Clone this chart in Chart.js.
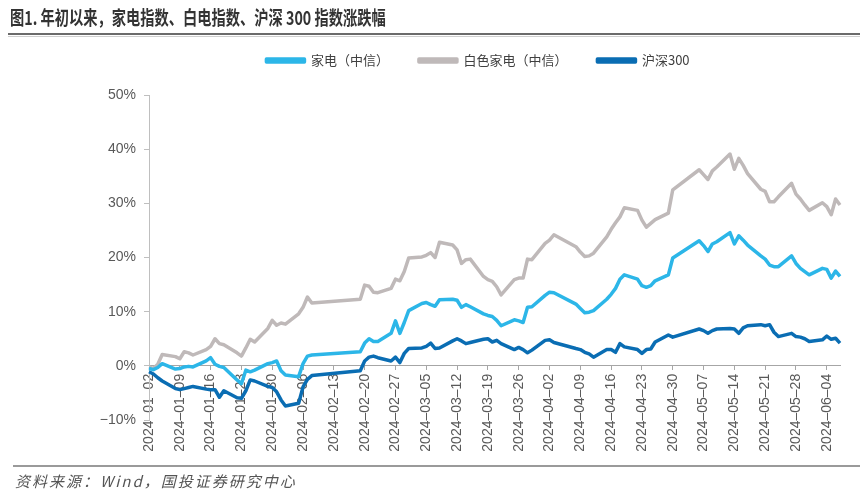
<!DOCTYPE html>
<html>
<head>
<meta charset="utf-8">
<script src="https://cdn.jsdelivr.net/npm/chart.js@4.4.1/dist/chart.umd.min.js"></script>
<style>
  html, body { margin: 0; padding: 0; background: #fff; }
  #wrap { position: relative; width: 860px; height: 497px; overflow: hidden; }
  #chart { position: absolute; left: 0; top: 0; }
  #title { position: absolute; left: 10px; top: 3px; font: bold 19px "Noto Sans CJK SC"; color: #333;
           white-space: nowrap; transform: scaleX(0.75); transform-origin: left top; }
  #rule1 { position: absolute; left: 8px; right: 0; top: 33px; height: 2px; background: #6b6b6b; }
  #rule1b { position: absolute; left: 8px; right: 0; top: 36px; height: 1px; background: #cfcfcf; }
  #rule2 { position: absolute; left: 13px; right: 0; top: 465px; height: 2px; background: #9a9a9a; }
  #src { position: absolute; left: 15px; top: 470px; font: italic 15px "Noto Sans CJK SC"; color: #555;
         white-space: nowrap; letter-spacing: 2px; }
</style>
</head>
<body>
<div id="wrap">
  <canvas id="chart" width="860" height="497"></canvas>
  <div id="title">图1. 年初以来，家电指数、白电指数、沪深 300 指数涨跌幅</div>
  <div id="rule1"></div><div id="rule1b"></div>
  <div id="rule2"></div>
  <div id="src">资料来源：Wind，国投证券研究中心</div>
</div>
<script>
// trading days (A-share calendar, 2024)
const tradeDates = [
  "2024-01-02","2024-01-03","2024-01-04","2024-01-05","2024-01-08","2024-01-09","2024-01-10","2024-01-11","2024-01-12",
  "2024-01-15","2024-01-16","2024-01-17","2024-01-18","2024-01-19","2024-01-22","2024-01-23","2024-01-24","2024-01-25",
  "2024-01-26","2024-01-29","2024-01-30","2024-01-31",
  "2024-02-01","2024-02-02","2024-02-05","2024-02-06","2024-02-07","2024-02-08","2024-02-19","2024-02-20","2024-02-21",
  "2024-02-22","2024-02-23","2024-02-26","2024-02-27","2024-02-28","2024-02-29",
  "2024-03-01","2024-03-04","2024-03-05","2024-03-06","2024-03-07","2024-03-08","2024-03-11","2024-03-12","2024-03-13",
  "2024-03-14","2024-03-15","2024-03-18","2024-03-19","2024-03-20","2024-03-21","2024-03-22","2024-03-25","2024-03-26",
  "2024-03-27","2024-03-28","2024-03-29",
  "2024-04-01","2024-04-02","2024-04-03","2024-04-08","2024-04-09","2024-04-10","2024-04-11","2024-04-12","2024-04-15",
  "2024-04-16","2024-04-17","2024-04-18","2024-04-19","2024-04-22","2024-04-23","2024-04-24","2024-04-25","2024-04-26",
  "2024-04-29","2024-04-30",
  "2024-05-06","2024-05-07","2024-05-08","2024-05-09","2024-05-10","2024-05-13","2024-05-14","2024-05-15","2024-05-16",
  "2024-05-17","2024-05-20","2024-05-21","2024-05-22","2024-05-23","2024-05-24","2024-05-27","2024-05-28","2024-05-29",
  "2024-05-30","2024-05-31",
  "2024-06-03","2024-06-04","2024-06-05","2024-06-06","2024-06-07"
];

// 家电（中信）, %
const jiadian = [
  -0.5, -0.7, -0.3, 0.4, -0.6, -0.5, -0.2, -0.1, -0.2, 0.9, 1.5, 0.3, -0.1, -0.3, -2.6, -3.3, -0.8, -1.1, -0.8, 0.4, 0.6, 0.9,
  -0.9, -1.7, -2.0, 0.4, 1.8, 2.0, 2.6, 4.2, 5.0, 4.5, 4.5, 6.0, 8.3, 6.0, 8.0,
  10.2, 11.5, 11.7, 11.3, 11.0, 12.2, 12.3, 12.1, 10.8, 11.3, 10.9, 9.6, 9.3, 9.1, 8.4, 7.4, 8.5, 8.3, 8.0, 10.8, 10.9,
  13.0, 13.6, 13.5, 11.4, 10.6, 9.8, 9.9, 10.2, 12.3, 13.2, 14.3, 16.0, 16.8, 16.0, 14.8, 14.5, 14.8, 15.7, 16.8, 19.9,
  23.1, 22.2, 21.1, 22.5, 22.9, 24.6, 22.5, 24.0, 23.2, 22.3, 20.3, 19.7, 18.6, 18.3, 18.3, 20.3, 18.9, 18.0, 17.4, 16.8,
  18.0, 17.8, 16.2, 17.5, 16.5
];

// 白色家电（中信）, %
const baidian = [
  -0.2, -0.5, 0.3, 2.1, 1.7, 1.3, 2.6, 2.4, 2.0, 3.0, 3.6, 5.0, 4.1, 3.9, 2.4, 1.8, 3.3, 4.9, 4.4, 6.9, 8.4, 7.5,
  7.9, 7.7, 9.6, 10.8, 12.7, 11.6, 12.3, 14.9, 14.7, 13.6, 13.5, 14.3, 16.0, 15.7, 17.4,
  19.9, 20.1, 20.4, 20.9, 20.0, 22.8, 22.3, 21.4, 18.9, 19.6, 19.7, 16.5, 15.9, 15.6, 14.6, 13.1, 15.9, 16.2, 16.2, 19.7, 19.6,
  22.6, 23.2, 24.2, 22.0, 21.0, 20.2, 20.3, 20.8, 23.8, 25.2, 26.4, 27.5, 29.2, 28.7, 26.9, 25.6, 26.3, 27.0, 28.2, 32.5,
  36.2, 35.3, 34.4, 36.0, 36.7, 39.1, 36.3, 38.3, 37.0, 35.5, 32.6, 32.2, 30.3, 30.3, 31.2, 33.7, 31.7, 30.8, 29.7, 28.7,
  30.1, 29.4, 27.9, 30.8, 29.7
];

// 沪深300, %
const hs300 = [
  -1.1, -1.5, -2.2, -2.8, -4.2, -4.4, -4.2, -4.0, -3.8, -4.3, -4.4, -4.4, -5.8, -4.6, -5.9, -6.0, -4.6, -2.6, -2.8, -3.8, -4.0, -4.8,
  -6.3, -7.4, -6.9, -3.9, -2.5, -1.8, -0.9, 0.9, 1.6, 1.8, 1.5, 0.9, 1.6, 0.6, 2.3,
  3.2, 3.3, 3.6, 4.2, 3.2, 3.3, 4.6, 5.0, 4.6, 4.1, 4.3, 4.9, 5.0, 4.4, 4.7, 4.1, 3.0, 3.4, 3.0, 2.4, 2.9,
  4.7, 4.8, 4.3, 3.2, 3.0, 2.5, 2.2, 1.6, 3.0, 3.0, 2.5, 4.1, 3.5, 3.0, 2.3, 3.0, 3.1, 4.4, 5.7, 5.3,
  6.8, 6.5, 6.0, 6.5, 6.8, 6.9, 6.8, 6.0, 7.0, 7.4, 7.6, 7.4, 7.6, 6.2, 5.4, 6.0, 5.4, 5.3, 5.0, 4.5,
  4.8, 5.5, 4.9, 5.1, 4.2
];

const seriesNames = ["家电（中信）", "白色家电（中信）", "沪深300"];
const yMin = -10, yMax = 50, yStep = 10;

// calendar axis: every day from the first to the last trading day
const labels = [];
for (let t = Date.UTC(2024, 0, 2); t <= Date.UTC(2024, 5, 7); t += 86400000) {
  labels.push(new Date(t).toISOString().slice(0, 10));
}
const pos = new Map(tradeDates.map((d, i) => [d, i]));
const spread = arr => labels.map(l => pos.has(l) ? arr[pos.get(l)] : null);

function line(label, vals, color) {
  return {
    label: label,
    data: spread(vals),
    borderColor: color,
    backgroundColor: color,
    borderWidth: 3.5,
    pointRadius: 0,
    tension: 0,
    spanGaps: true,
    borderJoinStyle: "round"
  };
}

// more room under the legend, and centre it over the plot instead of the canvas
const legendPlace = {
  id: "legendPlace",
  beforeInit(chart) {
    const fit = chart.legend.fit;
    chart.legend.fit = function () {
      fit.call(this);
      this.height += 18;
    };
  },
  afterLayout(chart) {
    chart.legend.left += 58;
    chart.legend.right += 58;
  }
};

const c = document.getElementById("chart");
new Chart(c, {
  type: "line",
  data: {
    labels: labels,
    datasets: [
      line(seriesNames[0], jiadian, "#2cb6e8"),
      line(seriesNames[1], baidian, "#bfb9b9"),
      line(seriesNames[2], hs300, "#0a6db3")
    ]
  },
  plugins: [legendPlace],
  options: {
    responsive: false,
    animation: false,
    devicePixelRatio: 1,
    layout: { padding: { top: 24, right: 20, bottom: 77, left: 0 } },
    plugins: {
      legend: {
        position: "top",
        labels: {
          boxWidth: 38,
          boxHeight: 3,
          padding: 30,
          color: "#404040",
          font: { family: "Noto Sans CJK SC", size: 13 }
        }
      },
      tooltip: { enabled: false }
    },
    scales: {
      x: {
        position: { y: 0 },
        afterBuildTicks: axis => {
          // one tick a week, starting 2024-01-02
          axis.ticks = axis.ticks.filter(t => t.value % 7 === 0);
        },
        ticks: {
          autoSkip: false,
          minRotation: 90,
          maxRotation: 90,
          padding: 4,
          color: "#595959",
          font: { family: "Liberation Sans", size: 14 },
          callback: function (v) { return this.getLabelForValue(v).replace(/-/g, "\u2013"); }
        },
        grid: { drawOnChartArea: false, drawTicks: true, tickLength: 4, color: "#a6a6a6" },
        border: { color: "#a6a6a6", width: 1 }
      },
      y: {
        min: yMin,
        max: yMax,
        afterFit: s => { s.width = 149; },
        ticks: {
          stepSize: yStep,
          padding: 8,
          color: "#595959",
          font: { family: "Liberation Sans", size: 14 },
          callback: v => (v < 0 ? "\u2212" + Math.abs(v) : v) + "%"
        },
        grid: { drawOnChartArea: false, drawTicks: true, tickLength: 5, color: "#bfbfbf" },
        border: { color: "#bfbfbf", width: 1 }
      }
    }
  }
});
</script>
</body>
</html>
